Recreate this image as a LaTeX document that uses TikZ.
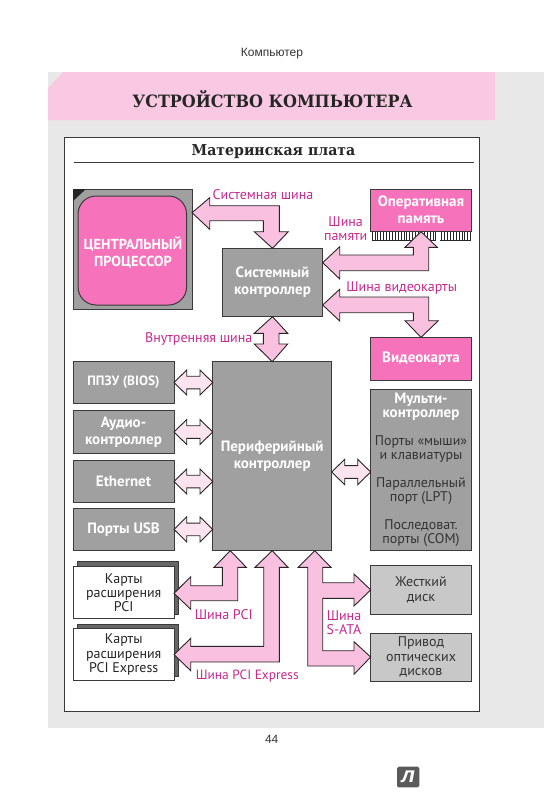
\documentclass[tikz,border=0pt]{standalone}
\usepackage{fontspec}
\setmainfont{PT Sans}
\newfontfamily\headfont{Liberation Sans}
\newfontfamily\titlefont[FakeStretch=0.94]{DejaVu Serif}
\usetikzlibrary{calc}
\definecolor{pagegrey}{HTML}{E8E8E8}
\definecolor{headpink}{HTML}{F9C9E3}
\definecolor{buspink}{HTML}{F9C0DF}
\definecolor{palepink}{HTML}{FBE3F0}
\definecolor{hotpink}{HTML}{F673BB}
\definecolor{boxgrey}{HTML}{A0A0A0}
\definecolor{lightgrey}{HTML}{C8C8C8}
\definecolor{inkline}{HTML}{3A3A3A}
\definecolor{magentatext}{HTML}{C62A8E}
\definecolor{logogrey}{HTML}{5A5A5A}
\newcommand{\fs}[1]{\fontsize{#1}{14.2}\selectfont}
\newcommand{\mhead}[1]{\textcolor{white}{\fs{15}\bfseries #1}}
\tikzset{
  blockbox/.style={draw=inkline,line width=1pt,outer sep=0pt,inner sep=0pt,align=center,text=white,font=\fs{15}\bfseries},
  greybox/.style={blockbox,fill=boxgrey},
  pinkbox/.style={blockbox,fill=hotpink},
  lightbox/.style={blockbox,fill=lightgrey,text=black!80,font=\fs{14}},
  cardbox/.style={blockbox,fill=white,text=black!85,font=\fs{14}},
  cardback/.style={draw=inkline,line width=1pt,fill=black!60,outer sep=0pt},
  buslabel/.style={text=magentatext,font=\fs{14},align=center,inner sep=0pt},
  busarrow/.style={draw=black!85,line width=0.9pt,fill=buspink,line join=miter},
  smallarrow/.style={draw=black!85,line width=0.9pt,fill=palepink,line join=miter},
  plaintext/.style={inner sep=0pt,align=center},
}
\begin{document}
\begin{tikzpicture}[x=1pt,y=-1pt]
\useasboundingbox (0,0) rectangle (544,800);
% page
\fill[pagegrey] (48,72) rectangle (544,728);
\fill[headpink] (48,88) -- (63,72) -- (495,72) -- (495,120) -- (48,120) -- cycle;
\node[plaintext,font=\headfont\fs{12},text=black!80] (running) at (272,54) {Компьютер};
\node[plaintext,font=\titlefont\fs{17}\bfseries,text=black!85] (title) at (272.5,99.5) {УСТРОЙСТВО КОМПЬЮТЕРА};
\node[plaintext,font=\headfont\fs{12},text=black!80] (pageno) at (271.7,739) {44};
% panel
\node[draw=inkline,line width=1.2pt,fill=white,minimum width=415pt,minimum height=574pt,outer sep=0pt,inner sep=0pt] (board) at (271.6,424.2) {};
\node[plaintext,font=\titlefont\fs{15}\bfseries,text=black!85] (boardtitle) at (273.5,152) {Материнская плата};
\draw[inkline,line width=1pt] (73.5,162.3) -- (474,162.3);
% back cards
\node[cardback,minimum width=100.7pt,minimum height=52.7pt] (pciback) at (127.8,588) {};
\node[cardback,minimum width=100.7pt,minimum height=52.7pt] (pcieback) at (127.8,650.6) {};
% boxes
\node[greybox,minimum width=119pt,minimum height=120pt] (cpu) at (132.5,249) {};
\fill[black!85] (73,189) -- (86,189) -- (73,201) -- cycle;
\node[pinkbox,rounded corners=18pt,minimum width=108.5pt,minimum height=109pt] (cpucore) at (132.3,250.5) {};
\node[plaintext,text=white,font=\fs{14.5}\bfseries] (cputext) at (133,253) {ЦЕНТРАЛЬНЫЙ\\[2.8pt]ПРОЦЕССОР};
\node[greybox,minimum width=100.4pt,minimum height=68.4pt] (sys) at (272.5,282.5) {Системный\\[2.8pt]контроллер};
\node[greybox,minimum width=119pt,minimum height=189pt] (per) at (272.2,456.2) {Периферийный\\[2.8pt]контроллер};
% RAM pins
\foreach \i in {0,...,33}{\draw[black!85,line width=0.7pt] ({372+\i*2.9},231.3) rectangle ({372+(\i+1)*2.9},240);}
\fill[white] (435.8,231.8) rectangle (439.5,240.5);
\node[pinkbox,minimum width=100.6pt,minimum height=42.3pt] (ram) at (421,210.2) {Оперативная\\[2.8pt]память};
\node[pinkbox,minimum width=100.6pt,minimum height=42.7pt] (video) at (421,358.7) {Видеокарта};
\node[greybox,minimum width=101pt,minimum height=42.5pt,font=\fs{13.5}\bfseries] (bios) at (123.5,382.5) {ППЗУ (BIOS)};
\node[greybox,minimum width=101pt,minimum height=42.6pt] (audio) at (123.5,432) {Аудио-\\[2.8pt]контроллер};
\node[greybox,minimum width=101pt,minimum height=42.4pt] (eth) at (123.5,481.5) {Ethernet};
\node[greybox,minimum width=101pt,minimum height=42.7pt] (usb) at (123.5,529.4) {Порты USB};
\node[greybox,minimum width=100.6pt,minimum height=161.4pt,text=black!80,font=\fs{14}] (multi) at (421,470) {\mhead{Мульти-}\\\mhead{контроллер}\\[13.5pt]Порты «мыши»\\и клавиатуры\\[13.5pt]Параллельный\\порт (LPT)\\[13.5pt]Последоват.\\порты (COM)};
\node[cardbox,minimum width=100.7pt,minimum height=52.7pt] (pci) at (123.7,592.4) {Карты\\расширения\\PCI};
\node[cardbox,minimum width=100.7pt,minimum height=52.7pt] (pcie) at (123.7,654.6) {Карты\\расширения\\PCI Express};
\node[lightbox,minimum width=100.6pt,minimum height=48.3pt] (hdd) at (421,589.9) {Жесткий\\диск};
\node[lightbox,minimum width=100.6pt,minimum height=48pt] (odd) at (421,657) {Привод\\оптических\\дисков};
% bus arrows
\draw[busarrow] (cpu.east |- 0,212.7) -- (209.7,197.7) -- (209.7,205.7) -- (279.3,205.7) -- (279.3,231.7) -- (288.3,231.7) -- (sys.north) -- (254.3,231.7) -- (263.3,231.7) -- (263.3,220.7) -- (209.7,220.7) -- (209.7,229.3) -- cycle;
\draw[busarrow] (sys.east |- 0,262.7) -- (339.7,246.7) -- (339.7,255) -- (413.3,255) -- (413.3,247.3) -- (405,247.3) -- (421,231.7) -- (437.3,247.3) -- (428.7,247.3) -- (428.7,270.7) -- (339.7,270.7) -- (339.7,279) -- cycle;
\draw[busarrow] (sys.east |- 0,305) -- (339.7,289.3) -- (339.7,297) -- (428.7,297) -- (428.7,320.7) -- (438.3,320.7) -- (video.north) -- (405,320.7) -- (413.3,320.7) -- (413.3,312.7) -- (339.7,312.7) -- (339.7,321) -- cycle;
\draw[busarrow] (sys.south) -- (287.7,333.3) -- (279,333.3) -- (279,344) -- (287.7,344) -- (per.north) -- (254.3,344) -- (263.3,344) -- (263.3,333.3) -- (254.3,333.3) -- cycle;
% small arrows
\foreach \n in {bios,audio,eth,usb}{
  \draw[smallarrow] (\n.east) -- ++(12.7,-12.5) -- ++(0,6.2) -- ++(13.3,0) -- ++(0,-6.2) -- ($(per.west |- \n.east)$) -- ++(-12.7,12.5) -- ++(0,-6.2) -- ++(-13.3,0) -- ++(0,6.2) -- cycle;
}
\draw[smallarrow] (per.east |- 0,472) -- ++(13,-12.7) -- ++(0,6.3) -- ++(13,0) -- ++(0,-6.3) -- (multi.west |- 0,472) -- ++(-13,12.7) -- ++(0,-6.3) -- ++(-13,0) -- ++(0,6.3) -- cycle;
\draw[busarrow] (per.south -| 230.3,0) -- (246.3,567.3) -- (237.7,567.3) -- (237.7,600.7) -- (190.7,600.7) -- (190.7,609.3) -- (pci.east |- 0,593.3) -- (190.7,576.7) -- (190.7,585.7) -- (222.3,585.7) -- (222.3,567.3) -- (214,567.3) -- cycle;
\draw[busarrow] (per.south) -- (288,567.3) -- (279.3,567.3) -- (279.3,662) -- (190.7,662) -- (190.7,670.7) -- (pcie.east) -- (190.7,638.3) -- (190.7,646.3) -- (263.7,646.3) -- (263.7,567.3) -- (255,567.3) -- cycle;
\draw[busarrow] (per.south -| 314.7,0) -- (331,567.3) -- (322.7,567.3) -- (322.7,582.7) -- (354,582.7) -- (354,574) -- (hdd.west) -- (354,606) -- (354,598.3) -- (322.7,598.3) -- (322.7,650.7) -- (354,650.7) -- (354,641.7) -- (odd.west) -- (354,674.3) -- (354,666) -- (307.7,666) -- (307.7,567.3) -- (298.3,567.3) -- cycle;
% labels
\node[buslabel] (lsys) at (263,194.3) {Системная шина};
\node[buslabel] (lmem) at (345.7,228.7) {Шина\\памяти};
\node[buslabel] (lvid) at (401.7,288.3) {Шина видеокарты};
\node[buslabel] (lint) at (198.7,338.7) {Внутренняя шина};
\node[buslabel] (lpci) at (223.7,614.3) {Шина PCI};
\node[buslabel,font=\fs{13.4}] (lpcie) at (247.3,676.3) {Шина PCI Express};
\node[buslabel] (lsata) at (344,623) {Шина\\S-ATA};
% logo
\node[fill=logogrey,rounded corners=1.5pt,minimum width=22.3pt,minimum height=20.6pt,inner sep=0pt,text=white,font=\headfont\fs{22}\bfseries\itshape] (logo) at (408.2,777) {л};
\end{tikzpicture}
\end{document}
